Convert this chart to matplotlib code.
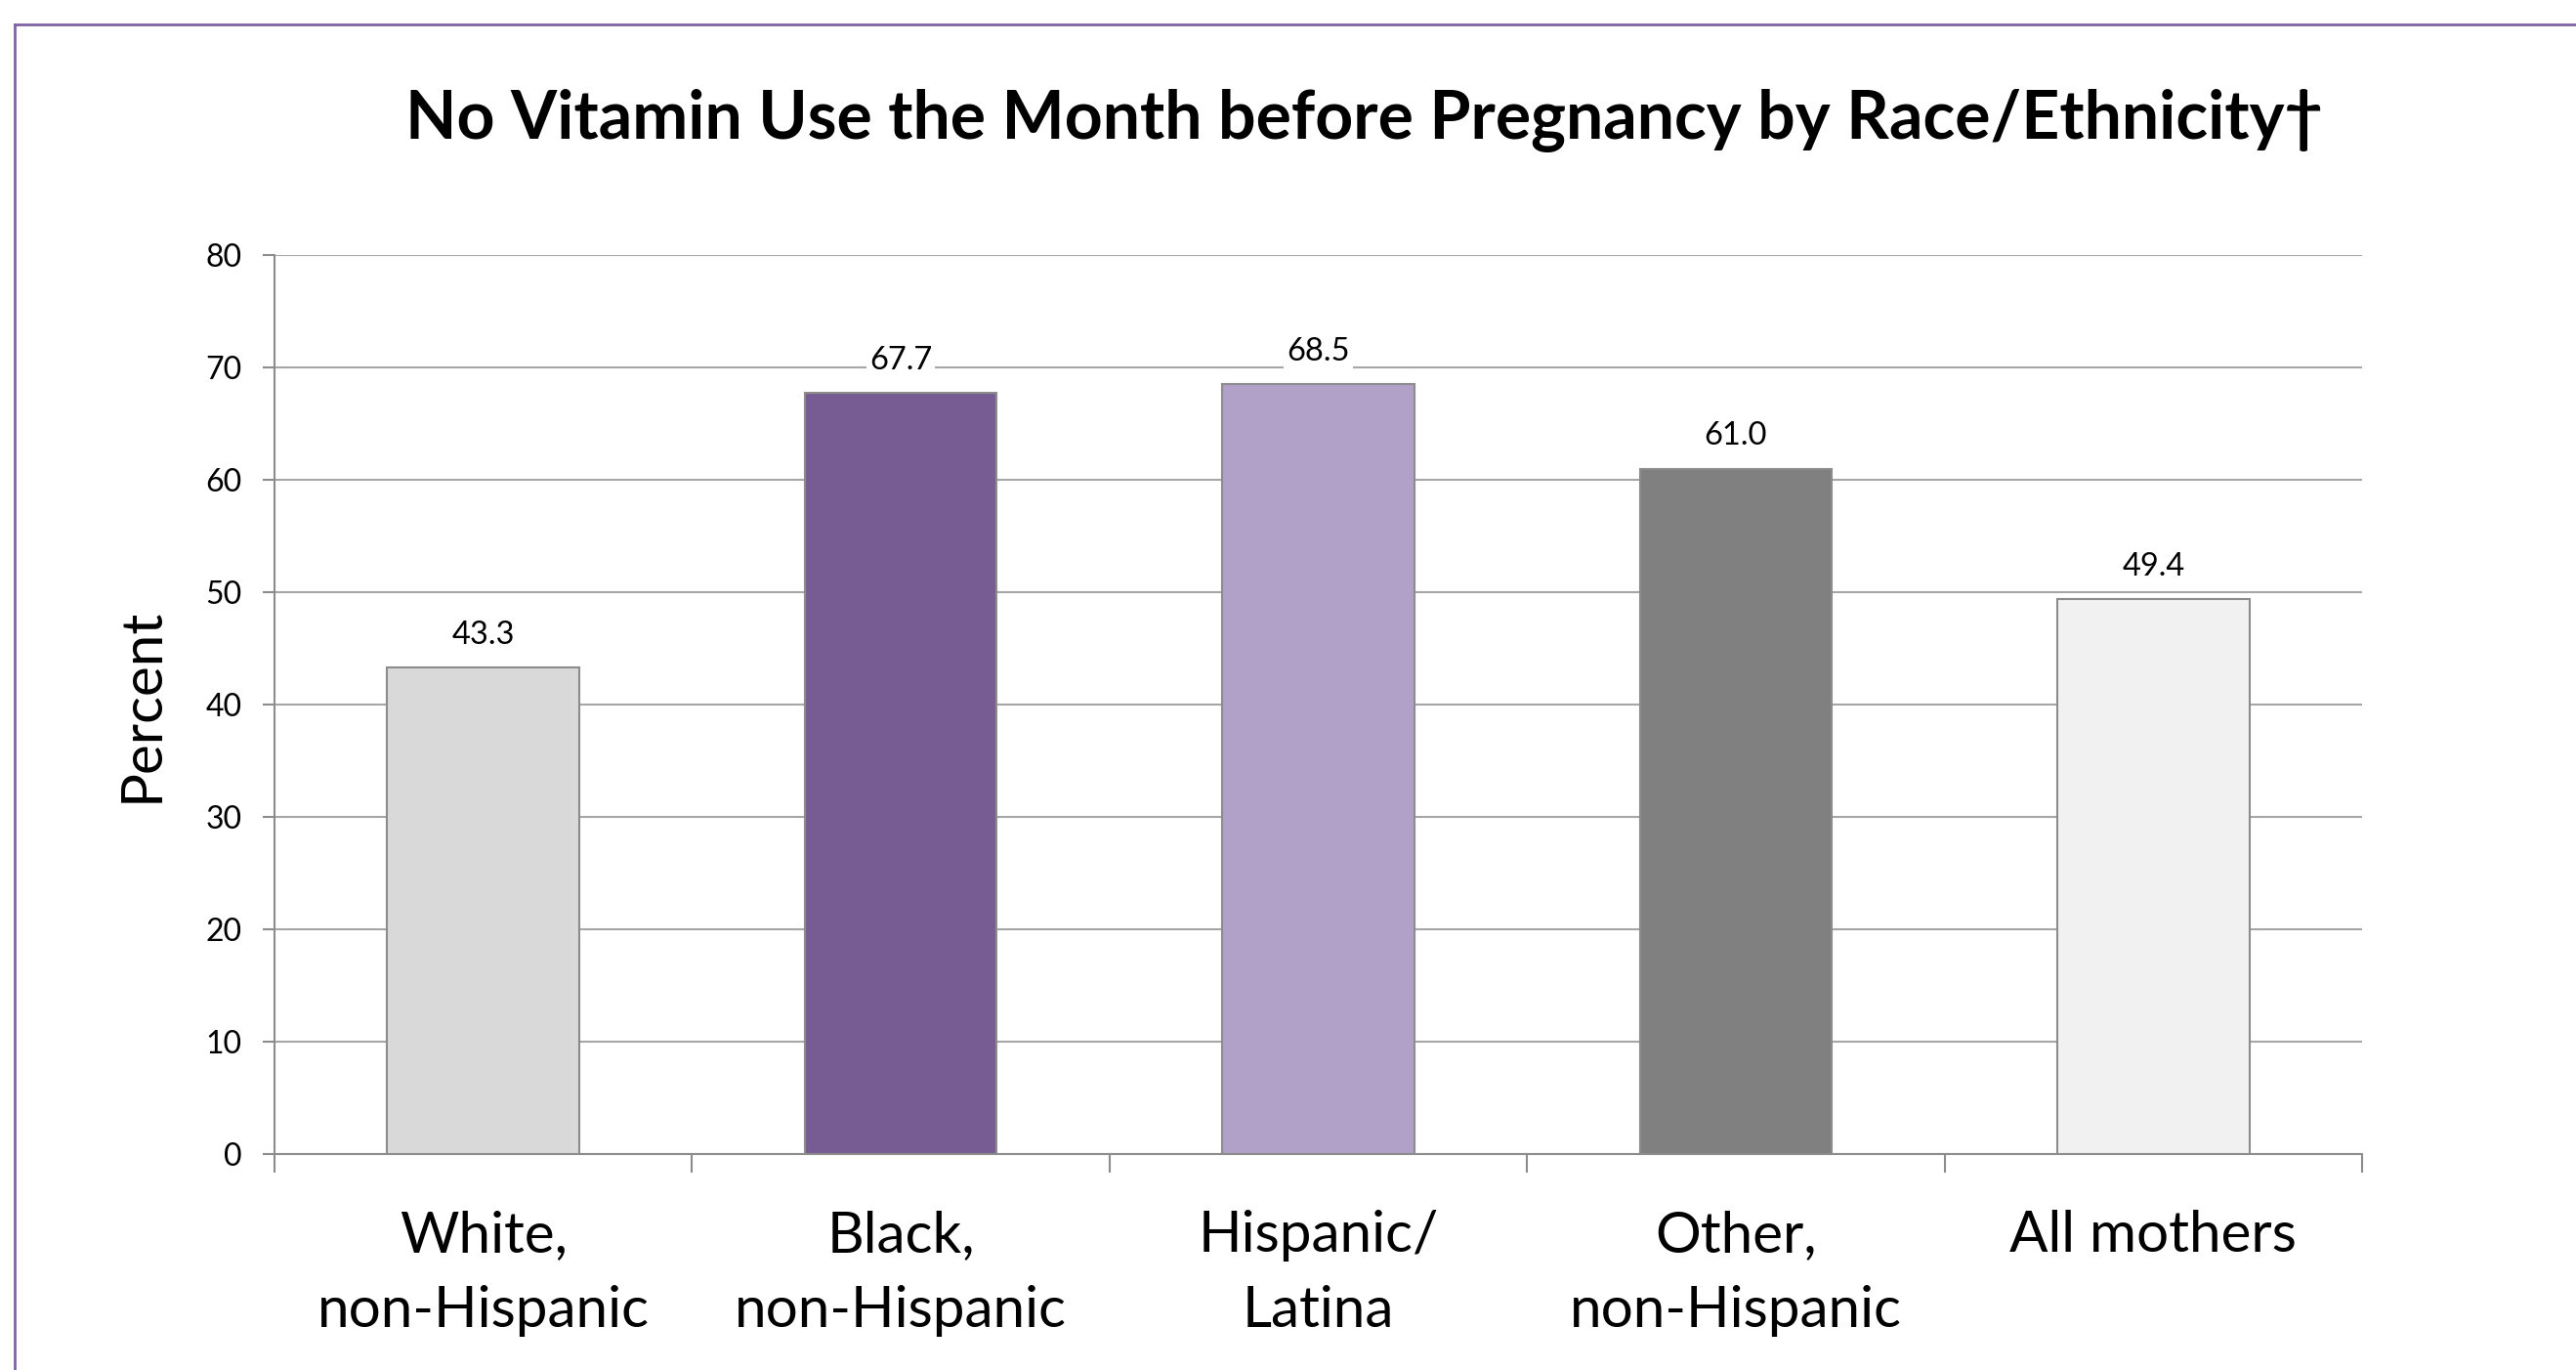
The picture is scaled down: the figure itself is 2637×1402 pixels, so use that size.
import matplotlib
matplotlib.use("Agg")
import matplotlib.pyplot as plt
from matplotlib.lines import Line2D

plt.rcParams['font.family'] = ['Lato', 'DejaVu Sans']

categories = ["White,\nnon-Hispanic", "Black,\nnon-Hispanic", "Hispanic/\nLatina",
              "Other,\nnon-Hispanic", "All mothers"]
values = [43.3, 67.7, 68.5, 61.0, 49.4]
colors = ["#D9D9D9", "#775C94", "#B1A0C7", "#808080", "#F1F1F1"]
yticks = [0, 10, 20, 30, 40, 50, 60, 70, 80]

W, H = 2637, 1402
fig = plt.figure(figsize=(W / 100, H / 100), dpi=100)

# purple frame, only top and left edges visible
fig.add_artist(Line2D([15 / W, 1.01], [1 - 25 / H, 1 - 25 / H], transform=fig.transFigure,
                      color="#8064A2", lw=2))
fig.add_artist(Line2D([15 / W, 15 / W], [-0.01, 1 - 25 / H], transform=fig.transFigure,
                      color="#8064A2", lw=2))

ax = fig.add_axes([281 / W, 1 - 1181 / H, (2418 - 281) / W, (1181 - 261) / H])

x = range(len(categories))
bars = ax.bar(x, values, width=0.46, color=colors, edgecolor="#8C8C8C", linewidth=1.5, zorder=3)

for xi, v in zip(x, values):
    ax.annotate(f"{v:.1f}", (xi, v), xytext=(0, 24), textcoords="offset points",
                ha="center", va="center", fontsize=23.5, zorder=4,
                bbox=dict(facecolor="white", edgecolor="none", pad=2))

ax.set_xlim(-0.5, len(categories) - 0.5)
ax.set_ylim(0, 80)
ax.set_yticks(yticks)
ax.set_yticklabels([str(t) for t in yticks], fontsize=23)
ax.yaxis.grid(True, color="#A6A6A6", lw=1.5, zorder=0)
ax.set_axisbelow(True)

# category labels between boundary ticks
ax.set_xticks([i - 0.5 for i in range(len(categories) + 1)])
ax.set_xticklabels([])
ax.set_xticks(list(x), minor=True)
ax.set_xticklabels(categories, minor=True, fontsize=42, linespacing=1.55)
ax.tick_params(axis="x", which="major", length=14, width=1.5, color="#8C8C8C")
ax.tick_params(axis="x", which="minor", length=0, pad=41)
ax.tick_params(axis="y", length=9, width=1.5, color="#8C8C8C", pad=15)

for s in ["top", "right"]:
    ax.spines[s].set_visible(False)
for s in ["left", "bottom"]:
    ax.spines[s].set_color("#8C8C8C")
    ax.spines[s].set_linewidth(1.5)

ax.set_ylabel("Percent", fontsize=42, labelpad=28)

fig.text(1396 / W, 1 - 123 / H, "No Vitamin Use the Month before Pregnancy by Race/Ethnicity\u2020",
         ha="center", va="center", fontsize=49, fontweight="bold")

fig.savefig("out.png", dpi=100, facecolor="white")
